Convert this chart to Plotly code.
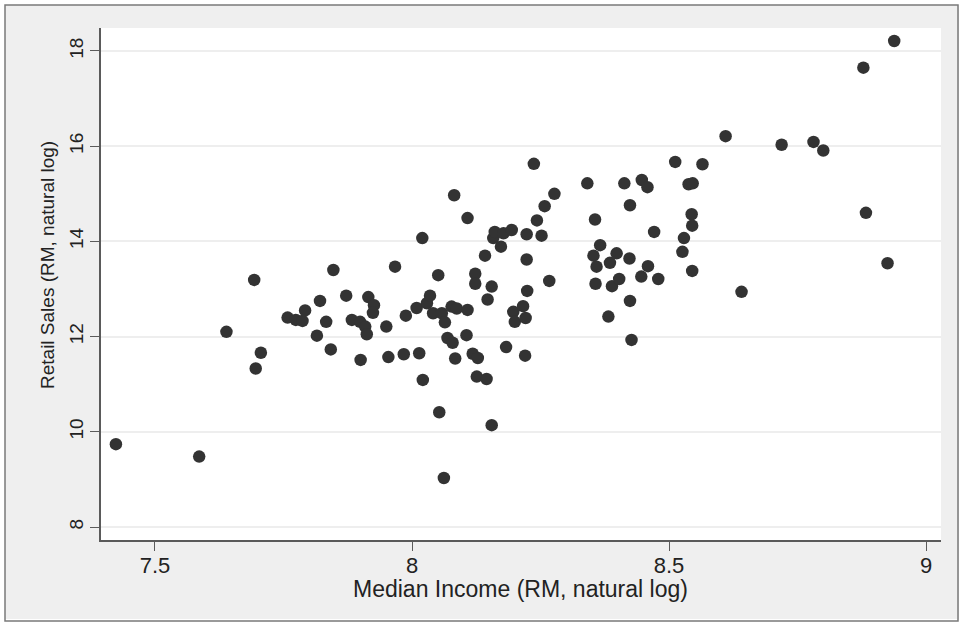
import plotly.graph_objects as go

# Median income (natural log) and retail sales (natural log)
median_income = [
    7.424, 7.586, 7.639, 7.693, 7.706, 7.696, 7.758, 7.774, 7.787, 7.792,
    7.821, 7.833, 7.815, 7.847, 7.842, 7.872, 7.883, 7.899, 7.909, 7.912,
    7.915, 7.926, 7.924, 7.900, 7.950, 7.954, 7.967, 7.984, 7.988, 8.009,
    8.014, 8.020, 8.021, 8.029, 8.035, 8.041, 8.051, 8.058, 8.053, 8.062,
    8.064, 8.069, 8.079, 8.077, 8.087, 8.082, 8.084, 8.108, 8.106, 8.108,
    8.118, 8.128, 8.123, 8.123, 8.126, 8.142, 8.145, 8.147, 8.155, 8.155,
    8.158, 8.161, 8.178, 8.173, 8.194, 8.183, 8.197, 8.200, 8.216, 8.221,
    8.220, 8.223, 8.223, 8.224, 8.237, 8.243, 8.252, 8.258, 8.267, 8.277,
    8.341, 8.356, 8.366, 8.353, 8.359, 8.357, 8.385, 8.398, 8.389, 8.403,
    8.382, 8.413, 8.424, 8.423, 8.424, 8.427, 8.447, 8.458, 8.459, 8.446,
    8.471, 8.479, 8.512, 8.529, 8.526, 8.538, 8.546, 8.544, 8.545, 8.545,
    8.565, 8.610, 8.641, 8.719, 8.781, 8.800, 8.878, 8.883, 8.925, 8.938,
]
retail_sales = [
    9.74, 9.48, 12.10, 13.19, 11.66, 11.33, 12.40, 12.35, 12.33, 12.55,
    12.75, 12.31, 12.02, 13.40, 11.73, 12.86, 12.35, 12.31, 12.21, 12.05,
    12.83, 12.66, 12.50, 11.51, 12.21, 11.57, 13.47, 11.63, 12.44, 12.60,
    11.65, 14.07, 11.09, 12.70, 12.86, 12.49, 13.29, 12.49, 10.41, 9.03,
    12.30, 11.97, 11.87, 12.63, 12.59, 14.97, 11.54, 12.56, 12.03, 14.49,
    11.64, 11.55, 13.32, 13.11, 11.16, 13.70, 11.11, 12.78, 13.05, 10.14,
    14.07, 14.20, 14.17, 13.89, 14.24, 11.78, 12.52, 12.31, 12.64, 12.39,
    11.60, 14.15, 13.62, 12.96, 15.63, 14.44, 14.12, 14.74, 13.17, 15.00,
    15.22, 14.46, 13.92, 13.70, 13.47, 13.11, 13.55, 13.75, 13.06, 13.21,
    12.42, 15.22, 14.76, 13.64, 12.75, 11.93, 15.29, 15.14, 13.48, 13.26,
    14.20, 13.21, 15.67, 14.07, 13.78, 15.20, 15.22, 14.57, 14.33, 13.38,
    15.62, 16.21, 12.94, 16.03, 16.09, 15.91, 17.65, 14.60, 13.54, 18.21,
]

x_ticks = [7.5, 8, 8.5, 9]
x_tick_labels = ["7.5", "8", "8.5", "9"]
y_ticks = [8, 10, 12, 14, 16, 18]
y_tick_labels = ["8", "10", "12", "14", "16", "18"]

x_title = "Median Income (RM, natural log)"
y_title = "Retail Sales (RM, natural log)"

W, H = 964, 624
L, R, T, B = 101, 23, 28, 84
PW, PH = W - L - R, H - T - B


def px_x(p):
    return (p - L) / PW


def px_y(p):
    return (H - B - p) / PH


fig = go.Figure()
fig.add_trace(go.Scatter(
    x=median_income, y=retail_sales, mode="markers",
    marker=dict(size=12.5, color="#333333", line=dict(width=0)),
    hoverinfo="skip", showlegend=False,
))

axis_col = "#5a5a5a"
txt_col = "#222222"
fig.update_layout(
    width=W, height=H,
    margin=dict(l=L, r=R, t=T, b=B, pad=0),
    paper_bgcolor="#efefef",
    plot_bgcolor="#ffffff",
    hovermode=False,
    font=dict(family="Liberation Sans, Arial, sans-serif", color=txt_col),
    xaxis=dict(
        range=[7.395, 9.029], tickvals=x_ticks, ticktext=x_tick_labels,
        ticks="outside", ticklen=9, tickwidth=1.2, tickcolor=axis_col,
        showline=True, linecolor=axis_col, linewidth=1.5,
        showgrid=False, zeroline=False,
        ticklabelstandoff=-4,
        tickfont=dict(size=22, color=txt_col),
    ),
    yaxis=dict(
        range=[7.727, 18.483], tickvals=y_ticks, ticktext=y_tick_labels,
        tickangle=-90,
        ticks="outside", ticklen=9, tickwidth=1.2, tickcolor=axis_col,
        showline=True, linecolor=axis_col, linewidth=1.5,
        showgrid=True, gridcolor="#eeeeee", gridwidth=1.5, zeroline=False,
        tickfont=dict(size=19, color=txt_col),
    ),
    annotations=[
        dict(text=x_title, xref="paper", yref="paper",
             x=px_x(520), y=px_y(589), xanchor="center", yanchor="middle",
             showarrow=False, font=dict(size=23, color=txt_col)),
        dict(text=y_title, xref="paper", yref="paper",
             x=px_x(47), y=px_y(265), xanchor="center", yanchor="middle",
             textangle=-90, showarrow=False, font=dict(size=19, color=txt_col)),
    ],
    shapes=[
        # white outer margin
        dict(type="rect", xref="paper", yref="paper",
             x0=px_x(0), x1=px_x(W), y0=px_y(H), y1=px_y(0),
             line=dict(color="#ffffff", width=10), fillcolor="rgba(0,0,0,0)",
             layer="above"),
        # grey outer frame
        dict(type="rect", xref="paper", yref="paper",
             x0=px_x(5), x1=px_x(958), y0=px_y(621), y1=px_y(5),
             line=dict(color="#7a7a7a", width=1.5), fillcolor="rgba(0,0,0,0)",
             layer="above"),
    ],
)

fig.write_html(
    "out.html",
    config={"displayModeBar": False},
    post_script="document.body.style.margin='0px';document.body.style.overflow='hidden';",
)
